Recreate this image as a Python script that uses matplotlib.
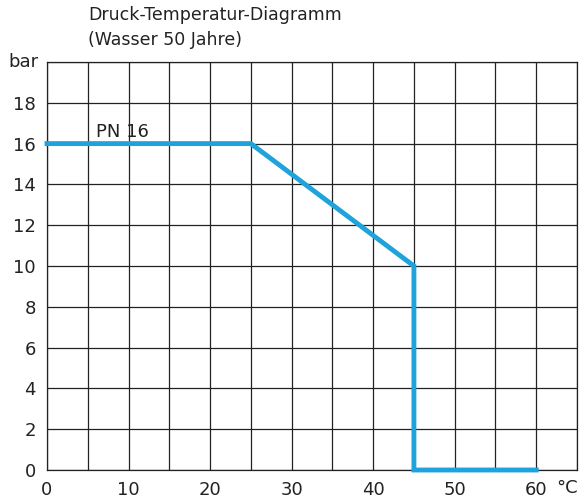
import matplotlib
matplotlib.use("Agg")
import matplotlib.pyplot as plt

temps = [0, 25, 45, 45, 60]
pressures = [16, 16, 10, 0, 0]
xticks = [0, 10, 20, 30, 40, 50, 60]
yticks = [0, 2, 4, 6, 8, 10, 12, 14, 16, 18]

fig = plt.figure(figsize=(5.83, 5.0), dpi=100)
ax = fig.add_axes([47/583, 30/500, 530/583, 408/500])
ax.set_xlim(0, 65)
ax.set_ylim(0, 20)
ax.set_xticks(range(0, 66, 5), minor=False)
ax.set_yticks(range(0, 21, 2))
ax.grid(True, color='#222222', linewidth=0.9)
ax.set_xticklabels([str(v) if v in xticks else '' for v in range(0, 66, 5)])
ax.set_yticklabels([str(v) if v in yticks else '' for v in range(0, 21, 2)])
ax.tick_params(length=0, labelsize=13, colors='#222222', pad=8)
for s in ax.spines.values():
    s.set_color('#222222'); s.set_linewidth(0.9)
ax.plot(temps, pressures, color='#1fa3dc', linewidth=3.5, solid_joinstyle='miter', clip_on=False, zorder=5)
ax.text(6, 16.3, 'PN 16', fontsize=13, color='#222222')
fig.text(8/583, 1-62/500, 'bar', fontsize=13, color='#222222', va='center')
fig.text(556/583, 1-488/500, '°C', fontsize=13, color='#222222', va='center')
fig.text(88/583, 1-15/500, 'Druck-Temperatur-Diagramm', fontsize=12.5, color='#222222', va='center')
fig.text(88/583, 1-40/500, '(Wasser 50 Jahre)', fontsize=12.5, color='#222222', va='center')
fig.savefig('out.png', dpi=100)
